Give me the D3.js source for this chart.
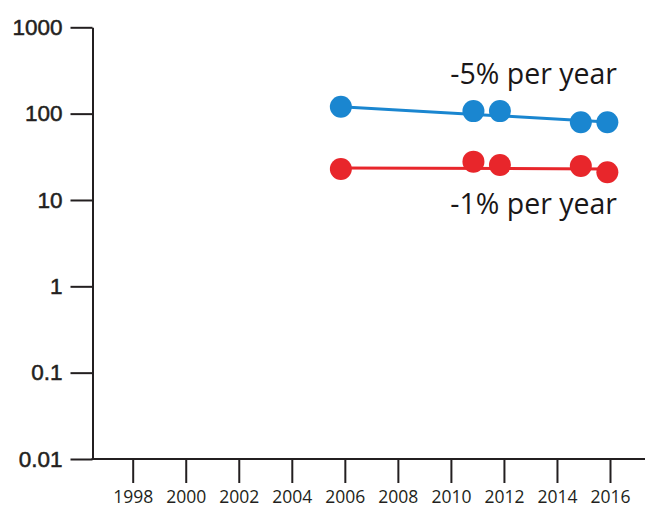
<!DOCTYPE html>
<html>
<head>
<meta charset="utf-8">
<script src="https://cdn.jsdelivr.net/npm/d3@7"></script>
<style>
  html, body { margin: 0; padding: 0; background: #fff; }
  svg { display: block; }
</style>
</head>
<body>
<svg id="chart" width="645" height="510"></svg>
<script>
// Survey years of the measurements (fractional years)
const years = [2005.85, 2010.85, 2011.85, 2014.9, 2015.9];

// Measured values for each series
const blueValues = [120, 107, 107, 79.4, 79.4];
const redValues = [22.9, 27.8, 25.4, 24.8, 20.9];

// Fitted trend end points (first and last survey year)
const trendYears = [2005.85, 2015.9];
const blueTrend = [120, 80];
const redTrend = [23.4, 22.9];

// Trend labels
const blueLabel = "-5% per year";
const redLabel = "-1% per year";

// Axis ticks
const xTickValues = [1998, 2000, 2002, 2004, 2006, 2008, 2010, 2012, 2014, 2016];
const yTickValues = [0.01, 0.1, 1, 10, 100, 1000];
const yTickLabels = ["0.01", "0.1", "1", "10", "100", "1000"];

const W = 645, H = 510;
const axisColor = "#231f20";
const blue = "#1a86d0";
const red = "#e8262b";

const svg = d3.select("#chart");

const axisX = 92.5;       // vertical axis position
const baseY = 459;        // horizontal axis position

const x = d3.scaleLinear().domain([1998, 2016]).range([132.7, 610]);
const y = d3.scaleLog().domain([0.01, 1000]).range([baseY, 27.3]);

// Y axis
const yAxis = d3.axisLeft(y)
  .tickValues(yTickValues)
  .tickFormat((d, i) => yTickLabels[i])
  .tickSize(22)
  .tickSizeOuter(0)
  .tickPadding(8);

const gy = svg.append("g")
  .attr("transform", `translate(${axisX},0)`)
  .call(yAxis);
gy.select(".domain").attr("stroke", axisColor).attr("stroke-width", 2);
gy.selectAll(".tick line").attr("stroke", axisColor).attr("stroke-width", 2);
gy.selectAll(".tick text")
  .attr("fill", axisColor)
  .attr("stroke", axisColor)
  .attr("stroke-width", 0.5)
  .style("font-family", "'Liberation Sans', Arial, sans-serif")
  .style("font-size", "22.5px");

// X axis
const xAxis = d3.axisBottom(x)
  .tickValues(xTickValues)
  .tickFormat(d3.format("d"))
  .tickSize(24)
  .tickSizeOuter(0)
  .tickPadding(8);

const gx = svg.append("g")
  .attr("transform", `translate(0,${baseY})`)
  .call(xAxis);
gx.select(".domain").remove();
gx.selectAll(".tick line").attr("stroke", axisColor).attr("stroke-width", 2);
gx.selectAll(".tick text")
  .attr("fill", axisColor)
  .style("font-family", "'Open Sans', sans-serif")
  .style("font-size", "17.5px");

// Horizontal base line running to the right edge
svg.append("line")
  .attr("x1", axisX - 1).attr("x2", W)
  .attr("y1", baseY).attr("y2", baseY)
  .attr("stroke", axisColor).attr("stroke-width", 2);

// Trend lines
const line = d3.line().x(d => x(d[0])).y(d => y(d[1]));

function drawSeries(values, trend, color) {
  svg.append("path")
    .datum(trendYears.map((t, i) => [t, trend[i]]))
    .attr("d", line)
    .attr("fill", "none")
    .attr("stroke", color)
    .attr("stroke-width", 3);
  svg.append("g")
    .selectAll("circle")
    .data(years.map((t, i) => [t, values[i]]))
    .join("circle")
    .attr("cx", d => x(d[0]))
    .attr("cy", d => y(d[1]))
    .attr("r", 11)
    .attr("fill", color);
}

drawSeries(blueValues, blueTrend, blue);
drawSeries(redValues, redTrend, red);

// Trend annotations
const labelStyle = sel => sel
  .attr("text-anchor", "end")
  .attr("fill", "#1a1718")
  .style("font-family", "'Open Sans', sans-serif")
  .style("font-size", "28.5px");

svg.append("text").attr("x", 617).attr("y", 83.5).text(blueLabel).call(labelStyle);
svg.append("text").attr("x", 617).attr("y", 213.5).text(redLabel).call(labelStyle);
</script>
</body>
</html>
